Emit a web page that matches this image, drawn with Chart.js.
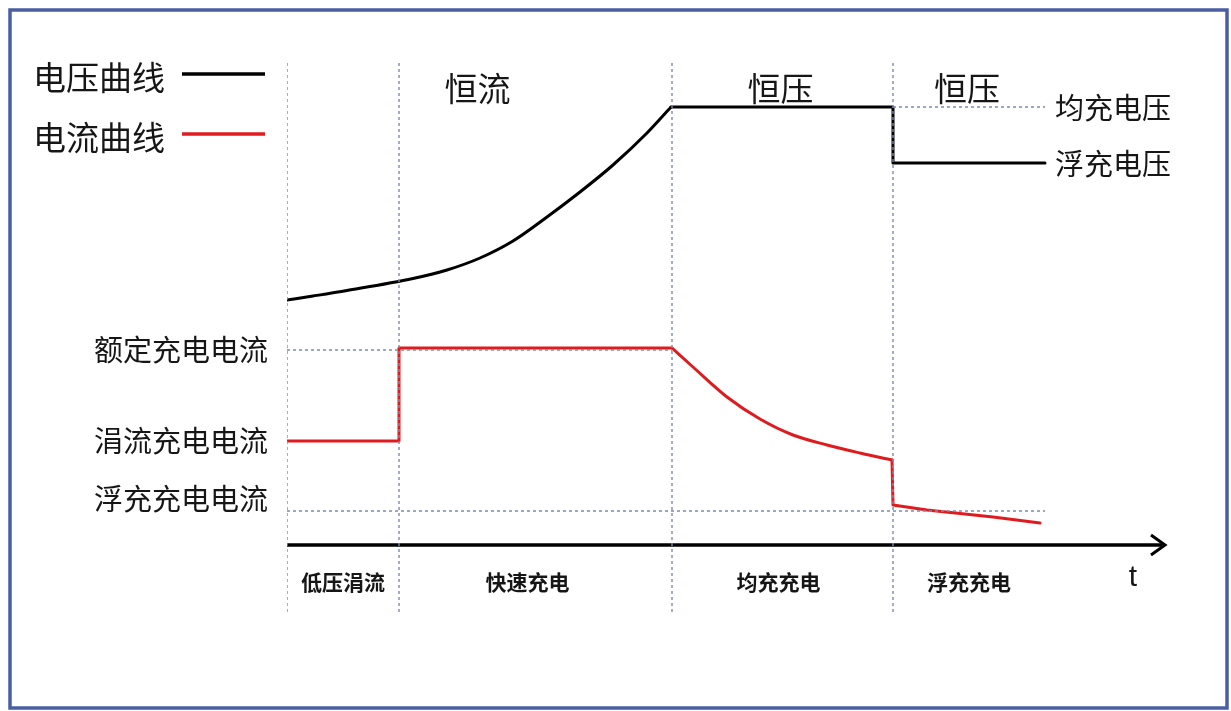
<!DOCTYPE html>
<html>
<head>
<meta charset="utf-8">
<script src="https://cdn.jsdelivr.net/npm/chart.js@4"></script>
<style>
  body { margin: 0; background: #fff; }
  #wrap { width: 1231px; height: 711px; position: relative; }
</style>
</head>
<body>
<div id="wrap"><canvas id="chargeChart"></canvas></div>
<script>
// phase boundaries on the time axis
const phaseEdges = [0, 1.12, 3.85, 6.06, 7.58];
const axisEnd = 8.8;

// voltage curve (black): rising part, then hold / step
const voltageT = [0, 0.26, 0.6, 1.26, 1.6, 1.93, 2.26, 2.6, 2.93, 3.26, 3.6, 3.84, 6.06, 6.06, 7.58];
const voltageV = [2.45, 2.49, 2.545, 2.665, 2.75, 2.87, 3.04, 3.28, 3.53, 3.8, 4.12, 4.38, 4.38, 3.82, 3.82];

// current curve (red): trickle, rated, taper, float
const currentT = [0, 1.12, 1.12, 3.85, 4.06, 4.4, 4.73, 5.06, 5.4, 5.73, 6.05, 6.06, 6.4, 7.06, 7.53];
const currentI = [1.04, 1.04, 1.97, 1.97, 1.78, 1.48, 1.26, 1.1, 1.0, 0.92, 0.85, 0.4, 0.35, 0.28, 0.22];

// reference levels
const ratedLevel = 1.95;
const trickleLevel = 1.04;
const floatCurLevel = 0.34;
const eqVoltLevel = 4.38;
const floatVoltLevel = 3.82;

// texts
const legendNames = ['电压曲线', '电流曲线'];
const modeNames = ['恒流', '恒压', '恒压'];
const stageNames = ['低压涓流', '快速充电', '均充充电', '浮充充电'];
const currentLabels = ['额定充电电流', '涓流充电电流', '浮充充电电流'];
const voltageLabels = ['均充电压', '浮充电压'];

const CJK = '"Noto Sans CJK SC", "Noto Sans", sans-serif';
const dashColor = '#7a8cb6';
const red = '#e01b1f';

function pts(xs, ys, from, to) {
  const out = [];
  for (let i = from; i <= to; i++) out.push({ x: xs[i], y: ys[i] });
  return out;
}

function dashed(points) {
  return {
    data: points,
    borderColor: dashColor,
    borderWidth: 1.4,
    borderDash: [3, 3],
    pointRadius: 0,
    fill: false,
  };
}

function curve(points, color, smooth) {
  return {
    data: points,
    borderColor: color,
    borderWidth: 3,
    pointRadius: 0,
    borderCapStyle: 'round',
    borderJoinStyle: 'round',
    cubicInterpolationMode: smooth ? 'monotone' : 'default',
    tension: 0,
  };
}

const datasets = [];
// vertical phase separators
phaseEdges.slice(0, 4).forEach((t) => {
  datasets.push(dashed([{ x: t, y: -0.67 }, { x: t, y: 4.85 }]));
});
datasets.push(dashed([{ x: 0, y: ratedLevel }, { x: phaseEdges[2], y: ratedLevel }]));
datasets.push(dashed([{ x: 0, y: floatCurLevel }, { x: phaseEdges[4], y: floatCurLevel }]));
datasets.push(dashed([{ x: phaseEdges[3], y: eqVoltLevel }, { x: phaseEdges[4], y: eqVoltLevel }]));
// time axis
datasets.push({
  data: [{ x: 0, y: 0 }, { x: axisEnd - 0.05, y: 0 }],
  borderColor: '#000',
  borderWidth: 3.5,
  pointRadius: 0,
});
// voltage
datasets.push(curve(pts(voltageT, voltageV, 0, 11), '#000', true));
datasets.push(curve(pts(voltageT, voltageV, 11, 14), '#000', false));
// current
datasets.push(curve(pts(currentT, currentI, 0, 3), red, false));
datasets.push(curve(pts(currentT, currentI, 3, 10), red, true));
datasets.push(curve(pts(currentT, currentI, 10, 14), red, false));

const decorPlugin = {
  id: 'decor',
  afterDatasetsDraw(chart) {
    const ctx = chart.ctx;
    const xs = chart.scales.x;
    const ys = chart.scales.y;
    const X = (v) => xs.getPixelForValue(v);
    const Y = (v) => ys.getPixelForValue(v);
    ctx.save();

    // frame
    ctx.strokeStyle = '#4a5fa3';
    ctx.lineWidth = 3.5;
    ctx.strokeRect(10, 10, 1217, 698);

    // arrow head
    const ax = X(axisEnd) - 2;
    const ay = Y(0);
    ctx.strokeStyle = '#000';
    ctx.lineWidth = 3;
    ctx.lineJoin = 'miter';
    ctx.beginPath();
    ctx.moveTo(ax - 14, ay - 10);
    ctx.lineTo(ax, ay);
    ctx.lineTo(ax - 14, ay + 10);
    ctx.stroke();

    ctx.fillStyle = '#161616';
    ctx.textBaseline = 'middle';

    // legend
    ctx.font = '33px ' + CJK;
    ctx.textAlign = 'left';
    const legendColors = ['#000', red];
    legendNames.forEach((name, i) => {
      const ly = 77 + i * 60;
      ctx.fillText(name, 33, ly);
      ctx.strokeStyle = legendColors[i];
      ctx.lineWidth = 3.5;
      ctx.beginPath();
      ctx.moveTo(182, ly - 3);
      ctx.lineTo(265, ly - 3);
      ctx.stroke();
    });

    // mode labels above
    ctx.font = '33px ' + CJK;
    ctx.textAlign = 'center';
    const modeSpans = [[0, 2], [2, 3], [3, 4]];
    modeNames.forEach((name, i) => {
      const mid = (phaseEdges[modeSpans[i][0]] + phaseEdges[modeSpans[i][1]]) / 2;
      ctx.fillText(name, X(mid) - 2, Y(4.57));
    });

    // current level labels
    ctx.font = '29px ' + CJK;
    ctx.textAlign = 'right';
    const curLevels = [ratedLevel, trickleLevel, floatCurLevel];
    const curNudge = [0, 0, -12];
    currentLabels.forEach((name, i) => {
      ctx.fillText(name, xs.left - 19, Y(curLevels[i]) + curNudge[i]);
    });

    // voltage level labels
    ctx.textAlign = 'left';
    const voltLevels = [eqVoltLevel, floatVoltLevel];
    voltageLabels.forEach((name, i) => {
      ctx.fillText(name, X(phaseEdges[4]) + 10, Y(voltLevels[i]) + 1);
    });

    // stage labels under axis
    ctx.font = 'bold 21px ' + CJK;
    ctx.textAlign = 'center';
    const stageNudge = [0, -8, -4, 0];
    stageNames.forEach((name, i) => {
      const mid = (phaseEdges[i] + phaseEdges[i + 1]) / 2;
      ctx.fillText(name, X(mid) + stageNudge[i], Y(-0.37));
    });

    // time symbol
    ctx.font = '30px "Liberation Sans", Arial, sans-serif';
    ctx.fillText('t', X(8.46), Y(-0.33));

    ctx.restore();
  },
};

new Chart(document.getElementById('chargeChart').getContext('2d'), {
  type: 'line',
  data: { datasets: datasets },
  options: {
    responsive: true,
    maintainAspectRatio: false,
    animation: false,
    layout: {
      padding: { left: 287, right: 64, top: 45, bottom: 96 },
    },
    plugins: {
      legend: { display: false },
      tooltip: { enabled: false },
    },
    scales: {
      x: { type: 'linear', min: 0, max: axisEnd, display: false },
      y: { type: 'linear', min: -0.7, max: 5.0, display: false },
    },
  },
  plugins: [decorPlugin],
});
</script>
</body>
</html>
